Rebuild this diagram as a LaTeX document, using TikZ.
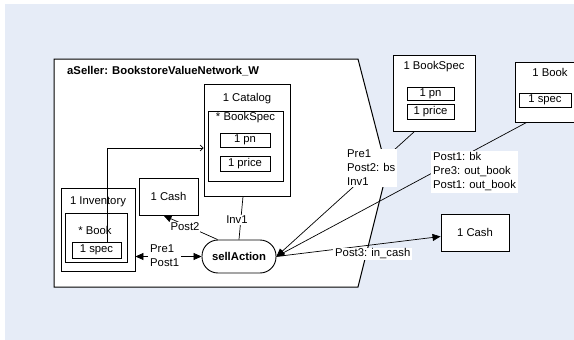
\documentclass[tikz,border=0pt]{standalone}
\usepackage{fontspec}
\setmainfont{Liberation Sans}
\usetikzlibrary{arrows.meta,calc}
\definecolor{bgblue}{HTML}{E6ECF7}
\begin{document}
\begin{tikzpicture}[x=1pt,y=-1pt,
  box/.style 2 args={draw=black, line width=0.9pt, fill=white, inner sep=0pt,
    minimum width=#1, minimum height=#2},
  txt/.style={inner sep=0pt, font=\fontsize{11.3}{14}\selectfont},
  lbl/.style={fill=white, inner xsep=2pt, inner ysep=1.5pt, align=left,
    font=\fontsize{11.3}{14}\selectfont},
  conn/.style={draw=black, line width=0.7pt},
  head/.style={-{Triangle[length=8pt,width=7pt]}},
  both/.style={{Triangle[length=8pt,width=7pt]}-{Triangle[length=8pt,width=7pt]}},
  barb/.style={-{Straight Barb[length=3pt,width=6pt]}}
]
\path[use as bounding box, clip] (0,0) rectangle (574,340);
\fill[white] (0,0) rectangle (574,340);
\fill[bgblue] (5,4) rectangle (574,340);

% frame
\draw[fill=white, line width=1pt] (54,59) -- (358,59) -- (387,171) -- (358,287) -- (54,287) -- cycle;
\node[txt, anchor=west, font=\fontsize{11.3}{14}\selectfont\bfseries] (title) at (67,71) {aSeller: BookstoreValueNetwork\_W};

% Catalog
\node[box={86}{112}] (cat) at (247,140) {};
\node[txt] (catt) at (247,99) {1 Catalog};
\node[box={75}{70}] (bs) at (245.5,146) {};
\node[txt] (bst) at (245.5,118) {* BookSpec};
\node[box={50}{14}, txt, draw, fill=white] (pn) at (245,140) {1 pn};
\node[box={50}{15}, txt, draw, fill=white] (price) at (245,163.5) {1 price};

% Inventory
\node[box={74}{83}] (inv) at (98,229.5) {};
\node[txt] (invt) at (98,202) {1 Inventory};
\node[box={62}{49}] (book) at (96,237.5) {};
\node[txt] (bookt) at (95,230) {* Book};
\node[box={49}{16}, txt, draw, fill=white] (spec) at (96.5,250) {1 spec};

% inner cash
\node[box={59}{37}, txt, draw, fill=white] (icash) at (168.5,196.5) {1 Cash};

% sellAction
\node[draw=black, line width=0.9pt, fill=white, rounded corners=16pt, minimum width=74pt,
  minimum height=33pt, inner sep=0pt, font=\fontsize{11.3}{14}\selectfont\bfseries] (sell) at (239,256.5) {sellAction};

% external BookSpec
\node[box={82}{76}] (ebs) at (434,93) {};
\node[txt] (ebst) at (434,67) {1 BookSpec};
\node[box={47}{13}, txt, draw, fill=white] (epn) at (430.5,93.5) {1 pn};
\node[box={47}{15}, txt, draw, fill=white] (eprice) at (430.5,111.5) {1 price};

% external Book
\node[box={90}{60}] (ebook) at (560,92) {};
\node[txt] (ebookt) at (550,72) {1 Book};
\node[box={52}{14}, txt, draw, fill=white] (espec) at (545,100) {1 spec};

% external Cash
\node[box={68}{37}, txt, draw, fill=white] (ecash) at (475,232.5) {1 Cash};

% connectors
\draw[conn, barb] ($(spec.north)+(10.5,0)$) |- ($(cat.west)+(0,8)$);
\draw[conn, head] ($(sell.north west)+(16,0)$) -- ($(icash.south west)+(25,0)$);
\draw[conn] (sell.north) -- ($(cat.south)+(-4,0)$);
\draw[conn, both] (inv.east |- sell.west) -- (sell.west);
\draw[conn, head] ($(ebs.south west)+(22,0)$) -- (sell.east);
\draw[conn, head] ($(ebook.south west)+(12,0)$) -- (sell.east);
\draw[conn, head] (sell.east) -- ($(ecash.west)+(0,4)$);

% labels
\node[lbl, inner sep=1pt] (lpost2) at (185,227) {Post2};
\node[lbl, inner sep=1pt] (linv1) at (237,220) {Inv1};
\node[lbl, anchor=west] (lpp) at (148,256) {Pre1\\Post1};
\node[lbl, anchor=west] (lbs) at (345,168) {Pre1\\Post2: bs\\Inv1};
\node[lbl, anchor=west] (lbk) at (431,172) {Post1: bk\\Pre3: out\_book\\Post1: out\_book};
\node[lbl, anchor=west, inner ysep=0.5pt] (lcash) at (333,254) {Post3: in\_cash};
\end{tikzpicture}
\end{document}
